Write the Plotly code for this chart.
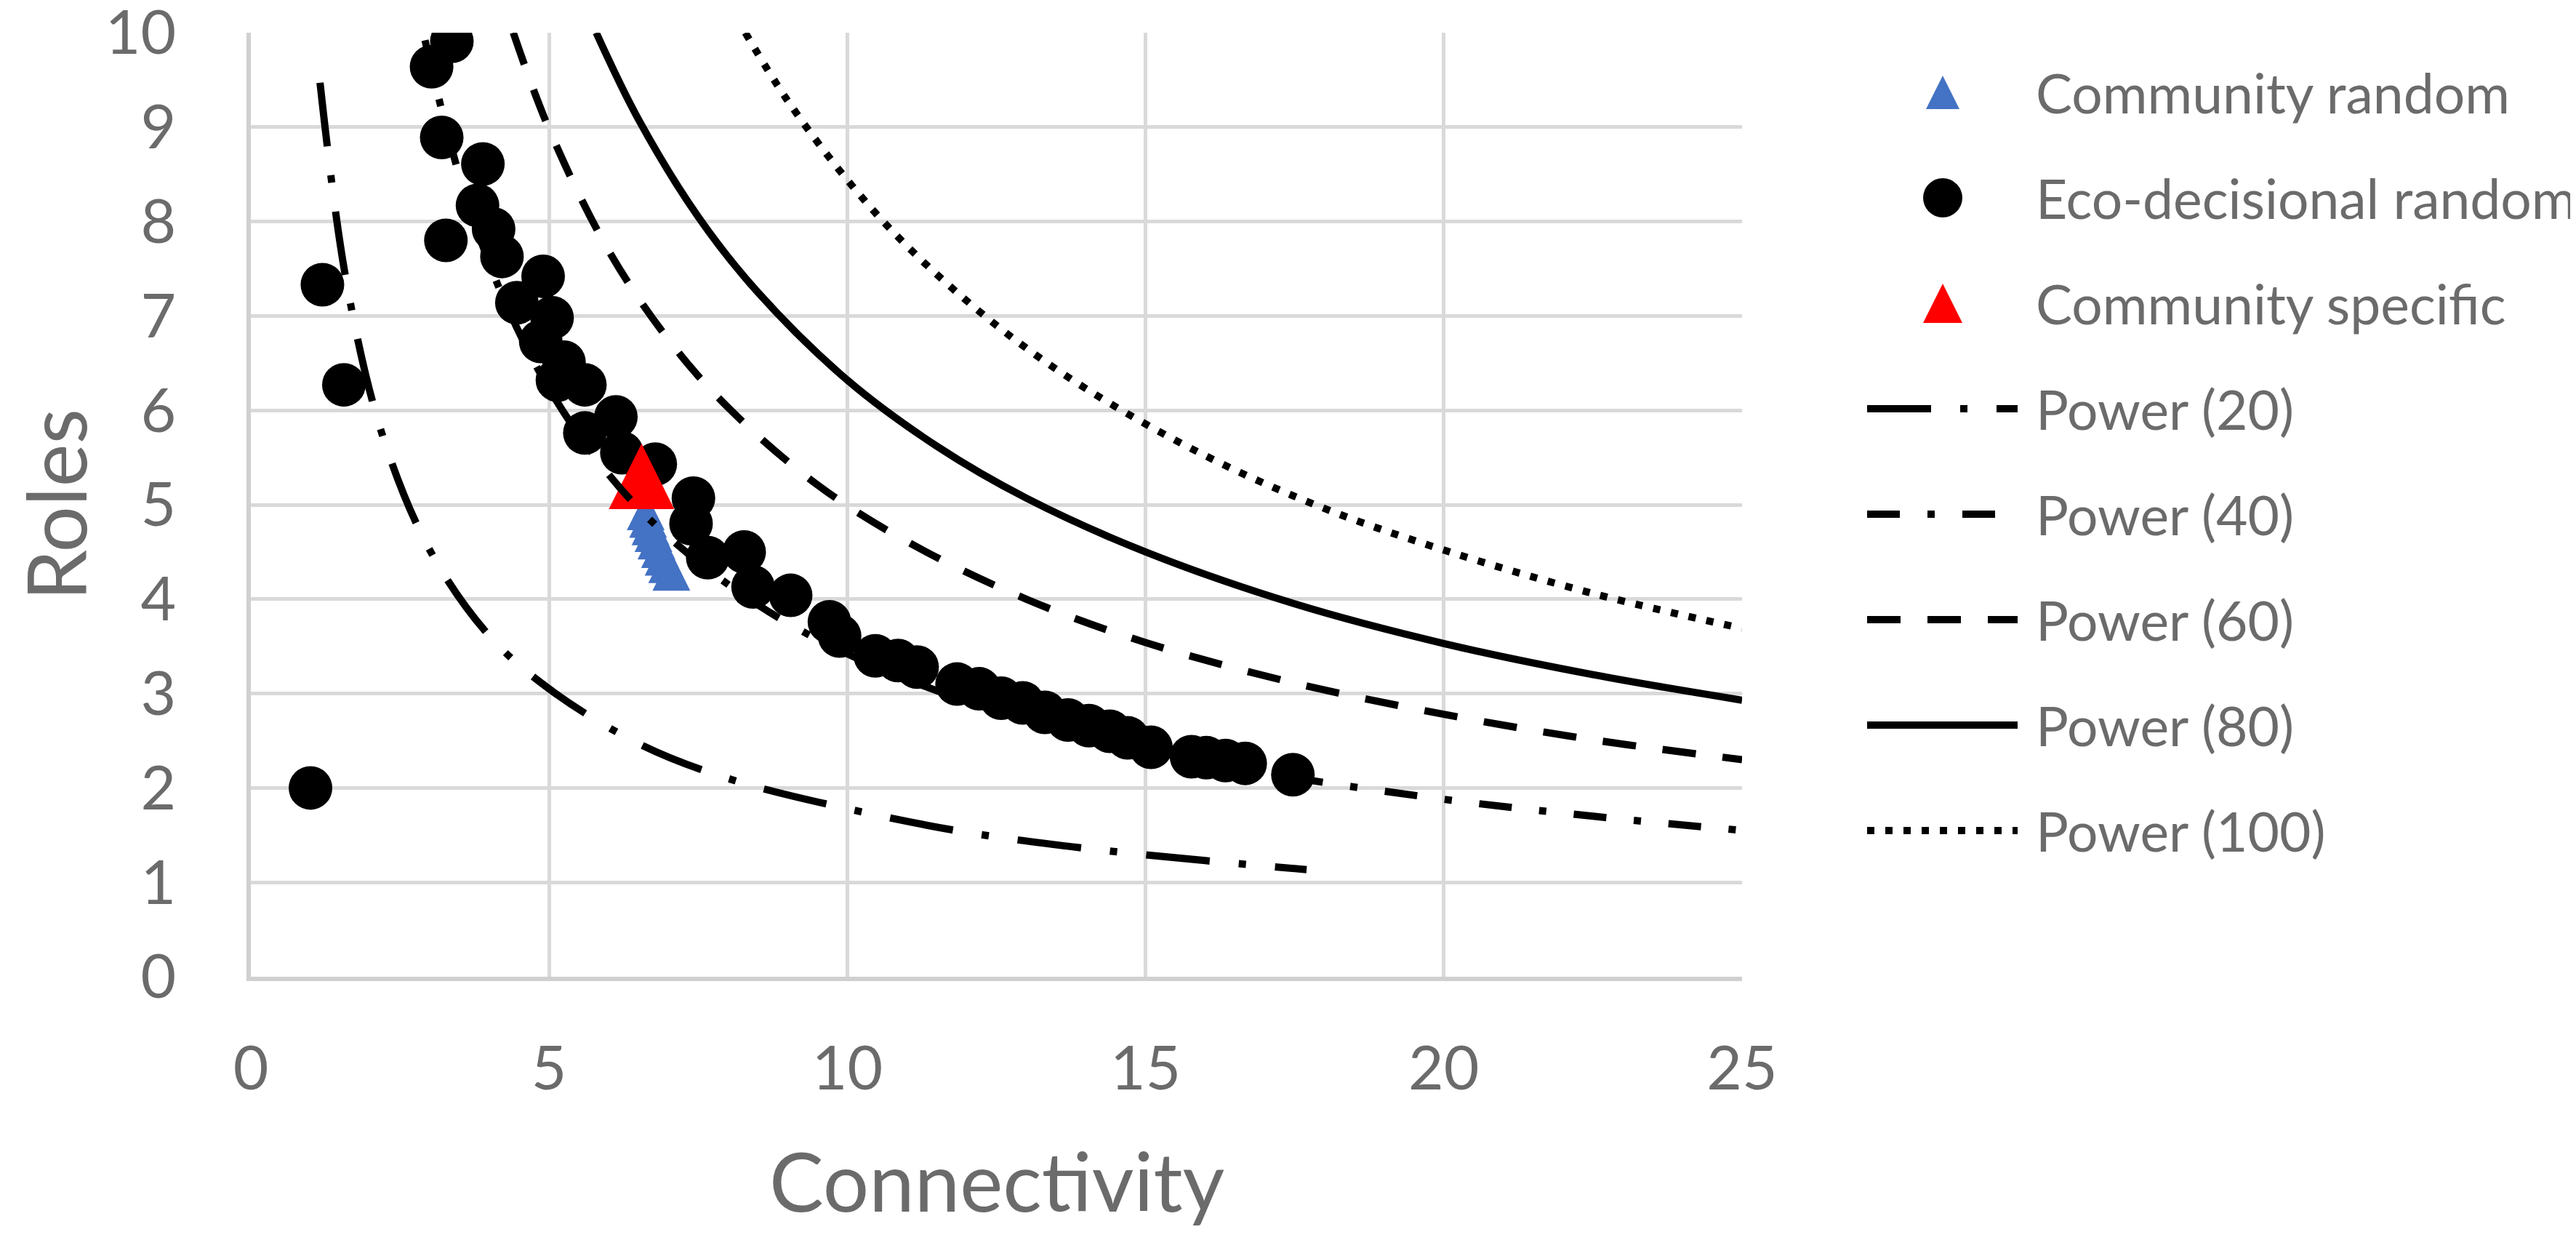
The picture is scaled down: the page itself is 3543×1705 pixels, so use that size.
import plotly.graph_objects as go

# Eco-decisional random (black circles)
eco_x = [1.00, 1.20, 1.56, 3.03, 3.37, 3.20, 3.27, 3.80, 3.89, 4.07, 4.21, 4.46, 4.90, 4.86,
         5.05, 5.14, 5.25, 5.60, 5.60, 6.12, 6.22, 6.78, 7.42, 7.38, 7.66, 8.27, 8.42, 9.05,
         9.70, 9.87, 10.47, 10.85, 11.17, 11.84, 12.21, 12.58, 12.94, 13.31, 13.70, 14.05,
         14.40, 14.70, 15.09, 15.77, 16.02, 16.34, 16.67, 17.47]
eco_y = [2.00, 7.33, 6.27, 9.64, 9.91, 8.89, 7.80, 8.17, 8.61, 7.92, 7.63, 7.14, 7.42, 6.73,
         6.98, 6.32, 6.51, 6.27, 5.76, 5.93, 5.55, 5.43, 5.07, 4.80, 4.44, 4.50, 4.13, 4.04,
         3.76, 3.61, 3.40, 3.35, 3.28, 3.10, 3.05, 2.95, 2.90, 2.80, 2.72, 2.66,
         2.60, 2.53, 2.43, 2.33, 2.32, 2.29, 2.26, 2.14]

# Community random (blue triangles)
comm_random_x = [6.62, 6.66, 6.70, 6.75, 6.80, 6.86, 6.92, 6.98, 7.05]
comm_random_y = [4.93, 4.85, 4.77, 4.70, 4.62, 4.53, 4.45, 4.37, 4.29]

# Community specific (red triangle)
comm_specific_x = [6.55]
comm_specific_y = [5.30]

# power trendlines, points
p20_x = [1.16, 1.6, 2.2, 3.0, 4.0, 5.0, 6.5, 8.0, 10.0, 12.0, 14.0, 16.0, 17.7]
p20_y = [9.47, 7.37, 5.75, 4.52, 3.61, 3.05, 2.47, 2.10, 1.78, 1.53, 1.36, 1.23, 1.135]
p40_x = [2.92, 3.5, 4.2, 5.0, 6.0, 7.0, 8.5, 10.0, 12.0, 14.5, 17.0, 20.0, 22.5, 25.0]
p40_y = [9.92, 8.48, 7.24, 6.23, 5.32, 4.66, 3.94, 3.42, 2.92, 2.48, 2.16, 1.88, 1.70, 1.55]
p60_x = [4.4, 5.0, 6.0, 7.0, 8.0, 9.5, 11.0, 13.0, 15.0, 17.5, 20.0, 22.5, 25.0]
p60_y = [10.0, 8.98, 7.69, 6.75, 6.03, 5.21, 4.61, 4.00, 3.54, 3.11, 2.78, 2.51, 2.30]
p80_x = [5.79, 6.5, 7.5, 8.5, 10.0, 11.5, 13.0, 15.0, 17.5, 20.0, 22.5, 25.0]
p80_y = [10.0, 9.08, 8.05, 7.25, 6.32, 5.62, 5.07, 4.50, 3.95, 3.53, 3.20, 2.93]
p100_x = [8.29, 9.0, 10.0, 11.0, 12.5, 14.0, 16.0, 18.0, 20.0, 22.5, 25.0]
p100_y = [10.0, 9.28, 8.44, 7.74, 6.90, 6.23, 5.52, 4.96, 4.52, 4.06, 3.69]

marker_names = ["Community random", "Eco-decisional random", "Community specific"]
power_names = ["Power (20)", "Power (40)", "Power (60)", "Power (80)", "Power (100)"]

x_ticks = [0, 5, 10, 15, 20, 25]
y_ticks = list(range(0, 11))

GREY = "#6b6b6b"
FONT = "Lato"

# page body has an 8px margin, so work in screen pixels and shift back
S = 8
W, H = 3543 - S, 1705 - S
PL, PR, PT, PB = 345 - S, 2396 - S, 45 - S, 1343 - S   # plot area edges
MR = 32

# arrow-down turned 180deg with standoff = size/2 gives a centred, taller triangle
def tri(size, color):
    return dict(symbol="arrow-down", angle=180, standoff=size / 2, color=color, size=size)

marker_styles = [tri(52, "#4472C4"), dict(symbol="circle", color="black", size=60), tri(90, "#FF0000")]
legend_styles = [tri(46, "#4472C4"), dict(symbol="circle", color="black", size=54), tri(54, "#FF0000")]
line_dashes = ["88px,40px,10px,40px", "45px,38px,10px,38px", "46px,37px", "solid", "10px,15px"]

fig = go.Figure()

marker_data = [(comm_random_x, comm_random_y), (eco_x, eco_y), (comm_specific_x, comm_specific_y)]
for name, (xs, ys), st in zip(marker_names, marker_data, marker_styles):
    fig.add_trace(go.Scatter(x=xs, y=ys, mode="markers", name=name, showlegend=False,
                             marker=dict(line=dict(width=0), **st)))

power_data = [(p20_x, p20_y), (p40_x, p40_y), (p60_x, p60_y), (p80_x, p80_y), (p100_x, p100_y)]
for name, (xs, ys), dash in zip(power_names, power_data, line_dashes):
    fig.add_trace(go.Scatter(x=xs, y=ys, mode="lines", name=name, showlegend=False,
                             line=dict(color="black", width=10, dash=dash, shape="spline", smoothing=1.0)))

# hand-made legend on its own pixel-scaled axes (plotly caps legend marker size)
row0, row_step = 127 - S, 145
sym_x, line_x0, line_x1, text_x = 2672 - S, 2568 - S, 2775 - S, 2798 - S
leg_x0 = 2540 - S
for i, st in enumerate(legend_styles):
    fig.add_trace(go.Scatter(x=[sym_x], y=[row0 + row_step * i], mode="markers", xaxis="x2", yaxis="y2",
                             showlegend=False, marker=dict(line=dict(width=0), **st),
                             cliponaxis=False, hoverinfo="skip"))
for j, dash in enumerate(line_dashes):
    yy = row0 + row_step * (j + 3)
    fig.add_trace(go.Scatter(x=[line_x0, line_x1], y=[yy, yy], mode="lines", xaxis="x2", yaxis="y2",
                             showlegend=False, line=dict(color="black", width=10, dash=dash),
                             cliponaxis=False, hoverinfo="skip"))

annotations = []
for i, name in enumerate(marker_names + power_names):
    annotations.append(dict(x=text_x, y=row0 + row_step * i, xref="x2", yref="y2", text=name,
                            showarrow=False, xanchor="left", yanchor="middle",
                            font=dict(family=FONT, size=75, color=GREY)))

plot_w = W - PL - MR
plot_h = PB - PT
main_dom = (PR - PL) / plot_w
leg_dom = (leg_x0 - PL) / plot_w

# x axis title as annotation so its height can be set exactly
annotations.append(dict(x=main_dom / 2, y=(PB - (1622 - S)) / plot_h, xref="paper", yref="paper",
                        text="Connectivity", showarrow=False, xanchor="center", yanchor="middle",
                        font=dict(family=FONT, size=112, color=GREY)))

axis_common = dict(showgrid=True, gridcolor="#d9d9d9", gridwidth=5, zeroline=False,
                   showline=True, linecolor="#d0d0d0", linewidth=6, automargin=False,
                   ticks="outside", tickcolor="rgba(0,0,0,0)", ticklabeloverflow="allow",
                   tickfont=dict(family=FONT, size=84, color=GREY))

fig.update_layout(
    width=W, height=H,
    margin=dict(l=PL, r=MR, t=PT, b=H - PB),
    plot_bgcolor="white", paper_bgcolor="white",
    showlegend=False,
    xaxis=dict(domain=[0, main_dom], range=[0, 25], tickvals=x_ticks, ticklen=48, **axis_common),
    yaxis=dict(domain=[0, 1], range=[0, 10], tickvals=y_ticks, ticklen=80,
               title=dict(text="Roles", font=dict(family=FONT, size=112, color=GREY), standoff=40),
               **axis_common),
    xaxis2=dict(domain=[leg_dom, 1], range=[leg_x0, W - MR], visible=False, fixedrange=True,
                automargin=False),
    yaxis2=dict(domain=[0, 1], range=[PB, PT], visible=False, fixedrange=True, anchor="x2",
                automargin=False),
    annotations=annotations,
)

fig.write_html("out.html")
